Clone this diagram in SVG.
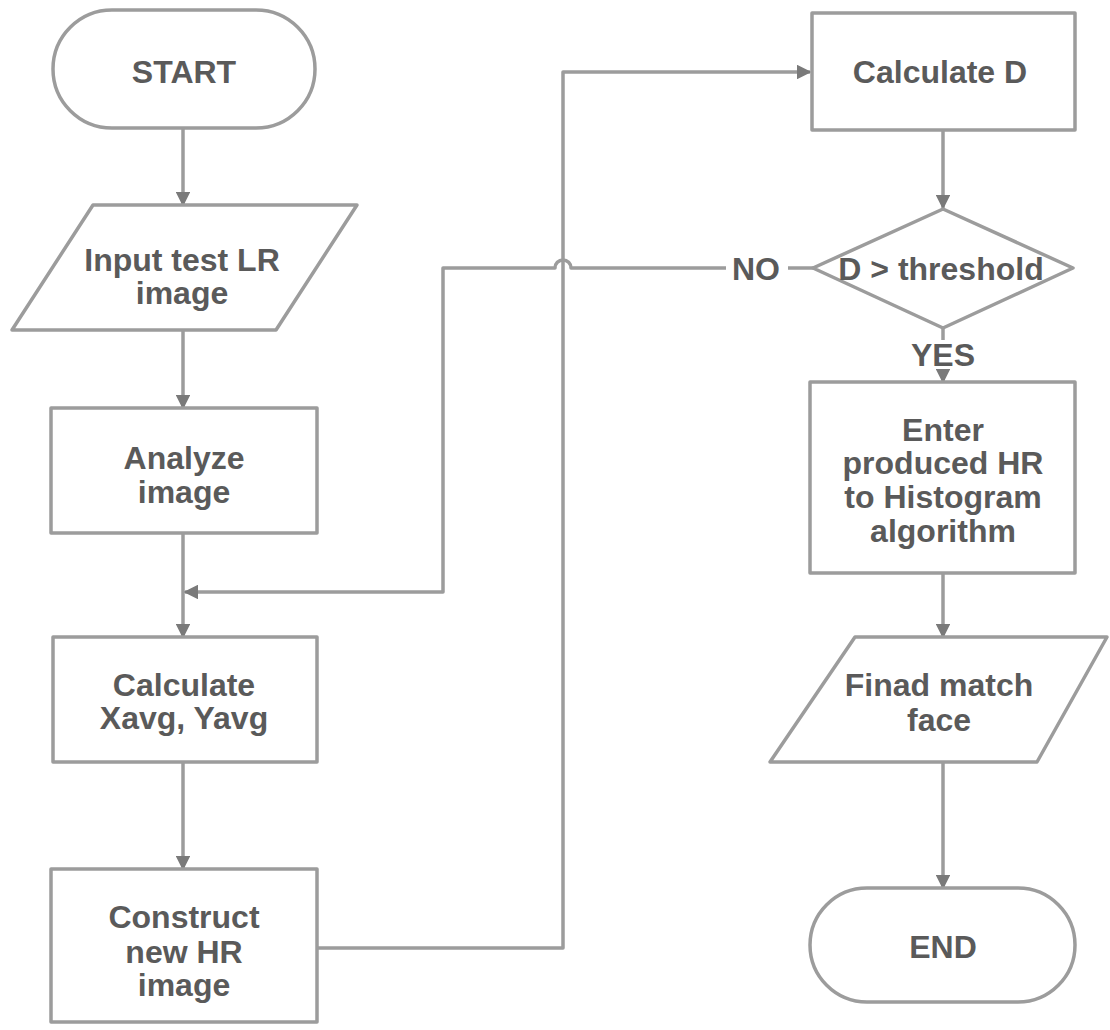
<svg xmlns="http://www.w3.org/2000/svg" width="1110" height="1030" viewBox="0 0 1110 1030">
<defs>
<style>
.shape{fill:#fff;stroke:#9c9c9c;stroke-width:3.5;stroke-linejoin:round}
.line{fill:none;stroke:#9c9c9c;stroke-width:3.5;stroke-linejoin:round}
.t{font-family:"Liberation Sans",Arial,sans-serif;font-size:32px;font-weight:bold;fill:#5a5a5a;text-anchor:middle;dominant-baseline:central}
</style>
<marker id="arr" viewBox="0 0 10 10" refX="9" refY="5" markerWidth="4.2" markerHeight="4.2" orient="auto" markerUnits="strokeWidth">
<path d="M0,0 L10,5 L0,10 z" fill="#7a7a7a"/>
</marker>
</defs>
<rect width="1110" height="1030" fill="#fff"/>
<g id="connectors">
<path class="line" d="M183,128 V205" marker-end="url(#arr)"/>
<path class="line" d="M183,330 V408" marker-end="url(#arr)"/>
<path class="line" d="M183,533 V637" marker-end="url(#arr)"/>
<path class="line" d="M183,762 V869" marker-end="url(#arr)"/>
<path class="line" d="M317,948 H563 V72 H810" marker-end="url(#arr)"/>
<path class="line" d="M943,130 V208" marker-end="url(#arr)"/>
<path class="line" d="M813,268 H788"/>
<path class="line" d="M726,268 H571 A8,8 0 0 0 555,268 H443 V592 H185" marker-end="url(#arr)"/>
<path class="line" d="M943,328 V340"/>
<path class="line" d="M943,370 V382" marker-end="url(#arr)"/>
<path class="line" d="M943,573 V637" marker-end="url(#arr)"/>
<path class="line" d="M943,762 V888" marker-end="url(#arr)"/>
<text class="t" x="756" y="269">NO</text>
<text class="t" x="943" y="355">YES</text>
</g>
<g id="start">
<rect class="shape" x="53" y="10" width="262" height="118" rx="59"/>
<text class="t" x="184" y="72">START</text>
</g>
<g id="input">
<polygon class="shape" points="93,205 357,205 276,330 12,330"/>
<text class="t" x="182" y="260">Input test LR</text>
<text class="t" x="182" y="293">image</text>
</g>
<g id="analyze">
<rect class="shape" x="51" y="408" width="266" height="125"/>
<text class="t" x="184" y="458">Analyze</text>
<text class="t" x="184" y="492">image</text>
</g>
<g id="calcxy">
<rect class="shape" x="53" y="637" width="264" height="125"/>
<text class="t" x="184" y="685">Calculate</text>
<text class="t" x="184" y="718">Xavg, Yavg</text>
</g>
<g id="construct">
<rect class="shape" x="51" y="869" width="266" height="153"/>
<text class="t" x="184" y="917">Construct</text>
<text class="t" x="184" y="952">new HR</text>
<text class="t" x="184" y="985">image</text>
</g>
<g id="calcd">
<rect class="shape" x="812" y="13" width="263" height="117"/>
<text class="t" x="940" y="72">Calculate D</text>
</g>
<g id="decision">
<polygon class="shape" points="943,209 1073,268 943,328 813,268"/>
<text class="t" x="941" y="269">D &gt; threshold</text>
</g>
<g id="enter">
<rect class="shape" x="810" y="382" width="265" height="191"/>
<text class="t" x="943" y="430">Enter</text>
<text class="t" x="943" y="463">produced HR</text>
<text class="t" x="943" y="497">to Histogram</text>
<text class="t" x="943" y="531">algorithm</text>
</g>
<g id="output">
<polygon class="shape" points="855,637 1107,637 1037,762 770,762"/>
<text class="t" x="939" y="685">Finad match</text>
<text class="t" x="939" y="720">face</text>
</g>
<g id="end">
<rect class="shape" x="810" y="888" width="265" height="114" rx="57"/>
<text class="t" x="943" y="947">END</text>
</g>
</svg>
